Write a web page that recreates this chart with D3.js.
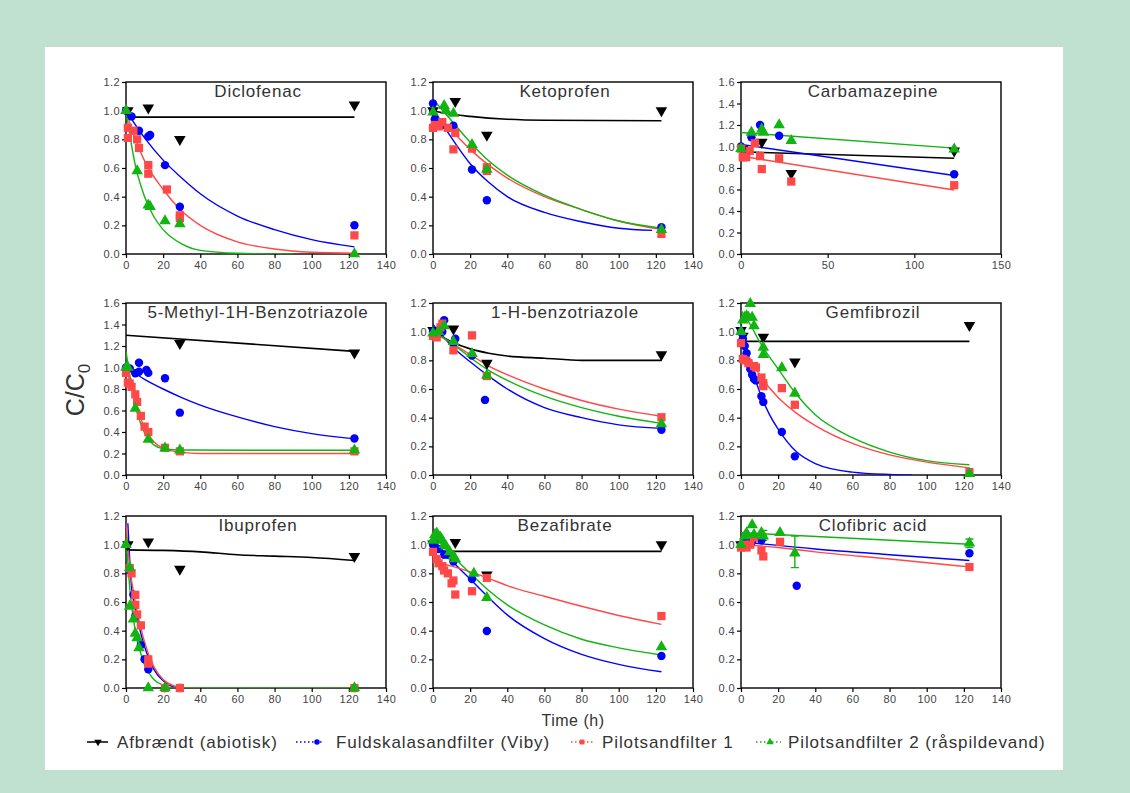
<!DOCTYPE html>
<html>
<head>
<meta charset="utf-8">
<script src="https://cdn.jsdelivr.net/npm/d3@7"></script>
<style>
  html, body { margin: 0; padding: 0; background: #c0e0d0; }
  svg { display: block; font-family: "Liberation Sans", Arial, sans-serif; }
</style>
</head>
<body>
<script>
// series order: abiotic, full-scale, pilot 1, pilot 2
var seriesNames = ["Afbrændt (abiotisk)", "Fuldskalasandfilter (Viby)", "Pilotsandfilter 1", "Pilotsandfilter 2 (råspildevand)"];
var seriesColors = ["#000000", "#0000ff", "#ff4848", "#12b412"];

var panelTitles = ["Diclofenac", "Ketoprofen", "Carbamazepine",
  "5-Methyl-1H-Benzotriazole", "1-H-benzotriazole", "Gemfibrozil",
  "Ibuprofen", "Bezafibrate", "Clofibric acid"];
var xMaxes = [140, 140, 150, 140, 140, 140, 140, 140, 140];
var yMaxes = [1.2, 1.2, 1.6, 1.6, 1.2, 1.2, 1.2, 1.2, 1.2];
var xTicks140 = [0, 20, 40, 60, 80, 100, 120, 140];
var xTicks150 = [0, 50, 100, 150];

// measured points: [series, time (h), C/C0]
var diclofenacPts = [
  [0,1,1.0],[0,12,1.02],[0,29,0.80],[0,123,1.04],
  [1,0,1.0],[1,3,0.96],[1,7,0.86],[1,12,0.82],[1,13,0.83],[1,21,0.62],[1,29,0.33],[1,123,0.2],
  [2,1,0.88],[2,1,0.81],[2,4,0.86],[2,6,0.80],[2,7,0.74],[2,12,0.62],[2,12,0.56],[2,22,0.45],[2,29,0.27],[2,29,0.25],[2,123,0.13],
  [3,0,1.0],[3,6,0.58],[3,12,0.34],[3,13,0.33],[3,21,0.23],[3,29,0.21],[3,123,0.0]];
var ketoprofenPts = [
  [0,0,1.0],[0,12,1.065],[0,29,0.83],[0,123,1.0],
  [1,0,1.05],[1,1,0.94],[1,5,0.9],[1,11,0.895],[1,21,0.59],[1,29,0.375],[1,123,0.186],
  [2,0,0.88],[2,1,0.9],[2,3,0.89],[2,5,0.92],[2,8,0.88],[2,11,0.73],[2,12,0.845],[2,21,0.735],[2,29,0.605],[2,29,0.58],[2,123,0.14],
  [3,0,0.99],[3,6,1.035],[3,7,1.0],[3,11,0.98],[3,21,0.763],[3,29,0.59],[3,123,0.17]];
var carbamazepinePts = [
  [0,1,0.976],[0,12,1.04],[0,29,0.75],[0,123,0.96],
  [1,0,1.0],[1,3,0.93],[1,6,1.085],[1,11,1.2],[1,22,1.1],[1,123,0.742],
  [2,0,0.98],[2,1,0.9],[2,3,0.9],[2,5,0.96],[2,8,1.03],[2,11,0.91],[2,12,0.79],[2,22,0.89],[2,29,0.674],[2,123,0.64],
  [3,0,0.98],[3,6,1.13],[3,12,1.16],[3,13,1.13],[3,22,1.2],[3,29,1.054],[3,123,0.976]];
var methylBtPts = [
  [0,29,1.224],[0,123,1.137],
  [1,0,1.0],[1,2,0.99],[1,5,0.946],[1,7,1.045],[1,7,0.96],[1,11,0.977],[1,12,0.95],[1,21,0.9],[1,29,0.58],[1,123,0.34],
  [2,0,0.95],[2,1,0.86],[2,2,0.85],[2,3,0.82],[2,5,0.75],[2,6,0.68],[2,8,0.55],[2,10,0.45],[2,12,0.4],[2,21,0.253],[2,29,0.22],[2,123,0.22],
  [3,0,1.0],[3,1,1.0],[3,5,0.62],[3,12,0.33],[3,21,0.25],[3,29,0.23],[3,123,0.23]];
var benzotriazolePts = [
  [0,0,1.01],[0,11,1.02],[0,29,0.78],[0,123,0.84],
  [1,0,1.0],[1,2,0.97],[1,5,1.0],[1,6,1.08],[1,11,0.916],[1,12,0.95],[1,21,0.834],[1,28,0.524],[1,123,0.315],
  [2,0,0.97],[2,2,0.96],[2,4,1.03],[2,5,1.056],[2,11,0.87],[2,21,0.974],[2,29,0.69],[2,123,0.403],
  [3,0,0.99],[3,3,1.0],[3,6,1.04],[3,11,0.93],[3,21,0.846],[3,29,0.695],[3,123,0.357]];
var gemfibrozilPts = [
  [0,0,1.01],[0,1,0.97],[0,12,0.963],[0,29,0.79],[0,123,1.045],
  [1,0,1.0],[1,1,0.95],[1,2,0.9],[1,3,0.85],[1,4,0.78],[1,5,0.74],[1,6,0.7],[1,7,0.67],[1,8,0.66],[1,11,0.55],[1,12,0.51],[1,22,0.3],[1,29,0.13],
  [2,0,0.92],[2,1,0.81],[2,2,0.8],[2,4,0.78],[2,7,0.76],[2,8,0.75],[2,11,0.68],[2,12,0.64],[2,12,0.62],[2,22,0.606],[2,29,0.49],[2,123,0.02],
  [3,0,1.0],[3,1,1.08],[3,2,1.1],[3,3,1.11],[3,4,1.1],[3,5,1.195],[3,6,1.1],[3,7,1.04],[3,12,0.89],[3,12,0.84],[3,22,0.748],[3,29,0.57],[3,123,0.01]];
var ibuprofenPts = [
  [0,1,1.0],[0,12,1.02],[0,29,0.83],[0,123,0.918],
  [1,2,0.82],[1,4,0.65],[1,5,0.5],[1,8,0.3],[1,10,0.2],[1,12,0.13],[1,21,0.0],[1,29,0.0],[1,123,0.0],
  [2,2,0.837],[2,3,0.8],[2,5,0.65],[2,5,0.58],[2,6,0.513],[2,8,0.437],[2,12,0.2],[2,12,0.17],[2,21,0.0],[2,29,0.0],[2,123,0.0],
  [3,0,1.0],[3,2,0.84],[3,2,0.57],[3,4,0.48],[3,5,0.38],[3,6,0.35],[3,7,0.28],[3,12,0.0],[3,21,0.0],[3,123,0.0]];
var bezafibratePts = [
  [0,0,1.006],[0,12,1.017],[0,29,0.79],[0,123,1.0],
  [1,0,1.0],[1,1,1.02],[1,3,0.97],[1,6,0.93],[1,8,0.93],[1,11,0.883],[1,21,0.76],[1,29,0.398],[1,123,0.224],
  [2,0,0.95],[2,2,0.9],[2,3,0.87],[2,5,0.85],[2,6,0.82],[2,8,0.8],[2,10,0.73],[2,11,0.75],[2,12,0.652],[2,21,0.675],[2,29,0.768],[2,123,0.502],
  [3,0,1.03],[3,1,1.07],[3,2,1.08],[3,3,1.06],[3,4,1.05],[3,5,1.03],[3,6,1.0],[3,7,0.99],[3,9,0.95],[3,11,0.92],[3,12,0.9],[3,22,0.8],[3,29,0.63],[3,123,0.287]];
var clofibricPts = [
  [0,0,1.0],
  [1,0,1.0],[1,3,1.03],[1,6,1.02],[1,11,1.03],[1,30,0.714],[1,123,0.94],
  [2,0,0.98],[2,2,1.0],[2,3,0.98],[2,5,1.0],[2,7,1.05],[2,11,0.96],[2,12,0.918],[2,21,1.02],[2,123,0.844],
  [3,0,1.0],[3,2,1.06],[3,3,1.08],[3,6,1.138],[3,7,1.07],[3,11,1.084],[3,12,1.06],[3,21,1.084],[3,29,0.94],[3,123,1.01]];
// green error bars in the clofibric acid panel: [time, low, high]
var clofibricErr = [[12,1.03,1.10],[29,0.84,1.06],[123,0.98,1.04]];

// fitted curves: one list of [time, C/C0] per series
var diclofenacFit = [
  [[0,0.955],[123,0.955]],
  [[0,1.0],[10,0.81],[20,0.655],[30,0.53],[40,0.42],[60,0.265],[80,0.17],[100,0.1],[123,0.05]],
  [[0,1.0],[5,0.8],[10,0.65],[20,0.45],[30,0.3],[40,0.2],[60,0.085],[80,0.035],[100,0.012],[123,0.005]],
  [[0,1.0],[5,0.62],[10,0.4],[15,0.26],[20,0.17],[30,0.07],[40,0.025],[60,0.005],[90,0.0]]];
var ketoprofenFit = [
  [[0,1.0],[10,0.975],[20,0.96],[40,0.94],[60,0.933],[123,0.93]],
  [[0,1.02],[5,0.91],[10,0.81],[20,0.63],[30,0.5],[40,0.40],[60,0.29],[80,0.225],[100,0.18],[118,0.165]],
  [[0,0.98],[10,0.86],[20,0.73],[30,0.62],[40,0.53],[60,0.40],[80,0.31],[100,0.23],[123,0.17]],
  [[0,1.08],[10,0.93],[20,0.78],[30,0.65],[40,0.55],[60,0.41],[80,0.31],[100,0.23],[123,0.18]]];
var carbamazepineFit = [
  [[0,0.95],[123,0.89]],
  [[0,1.02],[123,0.73]],
  [[0,0.91],[123,0.595]],
  [[0,1.13],[123,0.985]]];
var methylBtFit = [
  [[0,1.3],[123,1.15]],
  [[0,1.0],[10,0.89],[20,0.8],[30,0.72],[40,0.65],[60,0.54],[80,0.45],[100,0.385],[123,0.336]],
  [[0,1.0],[5,0.7],[10,0.43],[15,0.31],[20,0.25],[30,0.21],[40,0.2],[123,0.2]],
  [[0,1.15],[5,0.65],[10,0.39],[15,0.28],[20,0.245],[30,0.232],[123,0.23]]];
var benzotriazoleFit = [
  [[0,1.0],[10,0.93],[20,0.88],[30,0.85],[40,0.83],[60,0.815],[80,0.8],[123,0.8]],
  [[0,1.05],[10,0.9],[20,0.79],[30,0.69],[40,0.6],[60,0.47],[80,0.4],[100,0.35],[123,0.325]],
  [[0,1.0],[10,0.92],[20,0.84],[30,0.76],[40,0.70],[60,0.60],[80,0.52],[100,0.46],[123,0.41]],
  [[0,1.0],[10,0.92],[20,0.82],[30,0.73],[40,0.66],[60,0.55],[80,0.47],[100,0.41],[123,0.36]]];
var gemfibrozilFit = [
  [[0,0.932],[123,0.932]],
  [[0,1.05],[5,0.78],[10,0.58],[15,0.43],[20,0.32],[30,0.16],[40,0.08],[60,0.02],[80,0.004],[92,0.0]],
  [[0,0.93],[10,0.7],[20,0.54],[30,0.43],[40,0.345],[60,0.22],[80,0.14],[100,0.09],[123,0.05]],
  [[0,1.15],[5,1.05],[10,0.93],[20,0.74],[30,0.56],[40,0.42],[60,0.26],[80,0.16],[100,0.10],[123,0.072]]];
var ibuprofenFit = [
  [[0,0.964],[20,0.96],[40,0.95],[60,0.93],[80,0.92],[100,0.91],[123,0.89]],
  [[1,1.15],[3,0.7],[5,0.56],[8,0.38],[10,0.29],[15,0.13],[20,0.05],[25,0.01],[30,0.0],[123,0.0]],
  [[0,1.15],[2,0.85],[5,0.6],[8,0.42],[10,0.32],[15,0.15],[20,0.06],[25,0.02],[30,0.0],[123,0.0]],
  [[0,1.07],[2,0.7],[4,0.48],[6,0.33],[8,0.24],[10,0.16],[15,0.06],[20,0.02],[25,0.0],[123,0.0]]];
var bezafibrateFit = [
  [[0,0.953],[123,0.953]],
  [[0,1.04],[10,0.89],[20,0.76],[30,0.63],[40,0.51],[60,0.345],[80,0.235],[100,0.165],[123,0.113]],
  [[0,0.883],[10,0.85],[20,0.81],[30,0.765],[40,0.714],[60,0.64],[80,0.57],[100,0.506],[123,0.444]],
  [[0,1.07],[10,0.93],[20,0.8],[30,0.68],[40,0.58],[60,0.44],[80,0.34],[100,0.28],[123,0.23]]];
var clofibricFit = [
  [],
  [[0,1.02],[40,0.97],[80,0.93],[123,0.89]],
  [[0,1.0],[20,0.98],[40,0.95],[80,0.9],[123,0.845]],
  [[0,1.084],[123,1.003]]];

var panelPts = [diclofenacPts, ketoprofenPts, carbamazepinePts, methylBtPts, benzotriazolePts,
  gemfibrozilPts, ibuprofenPts, bezafibratePts, clofibricPts];
var panelFits = [diclofenacFit, ketoprofenFit, carbamazepineFit, methylBtFit, benzotriazoleFit,
  gemfibrozilFit, ibuprofenFit, bezafibrateFit, clofibricFit];

var W = 1130, H = 793;
var colLeft = [126, 433, 741], rowTop = [82, 303, 516];
var pw = 260, ph = 172;

var svg = d3.select('body').append('svg')
    .attr('width', W)
    .attr('height', H);

svg.append('rect')
    .attr('x', 45).attr('y', 47)
    .attr('width', 1018).attr('height', 723)
    .attr('fill', '#ffffff');

var symbolFor = function (s) {
  if (s === 1) return d3.symbol().type(d3.symbolCircle).size(56);
  if (s === 2) return d3.symbol().type(d3.symbolSquare).size(68);
  return d3.symbol().type(d3.symbolTriangle).size(58);
};
var markerTransform = function (s, x, y) {
  // abiotic control uses a downward triangle
  return 'translate(' + x + ',' + y + ')' + (s === 0 ? ' rotate(180)' : '');
};

panelTitles.forEach(function (title, i) {
  var left = colLeft[i % 3], top = rowTop[Math.floor(i / 3)];
  var x = d3.scaleLinear().domain([0, xMaxes[i]]).range([0, pw]);
  var y = d3.scaleLinear().domain([0, yMaxes[i]]).range([ph, 0]);
  var g = svg.append('g').attr('transform', 'translate(' + left + ',' + top + ')');

  g.append('clipPath').attr('id', 'clip' + i)
    .append('rect').attr('width', pw).attr('height', ph);

  var yAxis = d3.axisLeft(y)
      .tickValues(d3.range(0, yMaxes[i] + 0.01, 0.2))
      .tickFormat(d3.format('.1f'))
      .tickSize(4).tickPadding(2);
  var xAxis = d3.axisBottom(x)
      .tickValues(xMaxes[i] === 150 ? xTicks150 : xTicks140)
      .tickSize(4).tickPadding(3);

  g.append('g').call(yAxis);
  g.append('g').attr('transform', 'translate(0,' + ph + ')').call(xAxis);
  g.selectAll('.domain').remove();
  g.selectAll('.tick line').attr('stroke', '#000').attr('stroke-width', 1.2);
  g.selectAll('.tick text')
      .attr('fill', '#444')
      .style('font-size', '11px')
      .style('letter-spacing', '0.4px')
      .style('font-family', '"Liberation Sans", Arial, sans-serif');

  g.append('rect')
      .attr('width', pw).attr('height', ph)
      .attr('fill', 'none')
      .attr('stroke', '#000')
      .attr('stroke-width', 1.4);

  g.append('text')
      .attr('x', pw / 2 + 2).attr('y', 15)
      .attr('text-anchor', 'middle')
      .attr('fill', '#333')
      .style('font-size', '17px')
      .style('letter-spacing', '0.8px')
      .text(title);

  var line = d3.line()
      .x(function (d) { return x(d[0]); })
      .y(function (d) { return y(d[1]); })
      .curve(d3.curveMonotoneX);

  var plot = g.append('g').attr('clip-path', 'url(#clip' + i + ')');
  panelFits[i].forEach(function (fit, s) {
    if (!fit.length) return;
    plot.append('path')
        .attr('d', line(fit))
        .attr('fill', 'none')
        .attr('stroke', seriesColors[s])
        .attr('stroke-width', s === 0 ? 1.6 : 1.4);
  });

  if (i === 8) {
    clofibricErr.forEach(function (e) {
      var ex = x(e[0]);
      g.append('path')
          .attr('d', 'M' + ex + ',' + y(e[1]) + 'V' + y(e[2]) +
                     'M' + (ex - 4) + ',' + y(e[1]) + 'h8' +
                     'M' + (ex - 4) + ',' + y(e[2]) + 'h8')
          .attr('stroke', seriesColors[3])
          .attr('stroke-width', 1.4)
          .attr('fill', 'none');
    });
  }

  [0, 1, 2, 3].forEach(function (s) {
    g.selectAll('.pt' + s)
      .data(panelPts[i].filter(function (d) { return d[0] === s; }))
      .enter().append('path')
        .attr('d', symbolFor(s))
        .attr('transform', function (d) { return markerTransform(s, x(d[1]), y(d[2])); })
        .attr('fill', seriesColors[s]);
  });
});

// y axis label C/C0
var yLab = svg.append('text')
    .attr('transform', 'translate(84,390) rotate(-90)')
    .attr('text-anchor', 'middle')
    .attr('fill', '#333')
    .style('font-size', '25px');
yLab.append('tspan').text('C/C');
yLab.append('tspan').attr('dy', 6).style('font-size', '17px').text('0');

svg.append('text')
    .attr('x', 573).attr('y', 726)
    .attr('text-anchor', 'middle')
    .attr('fill', '#333')
    .style('font-size', '16px')
    .style('letter-spacing', '0.5px')
    .text('Time (h)');

// legend
var legendX = [[87, 108, 98, 117], [296, 322, 317, 336], [571, 594, 582, 602], [756, 781, 770, 788]];
var legend = svg.append('g').attr('transform', 'translate(0,742)');
seriesNames.forEach(function (name, s) {
  var lx = legendX[s];
  legend.append('line')
      .attr('x1', lx[0]).attr('x2', lx[1])
      .attr('stroke', seriesColors[s])
      .attr('stroke-width', 1.5)
      .attr('stroke-dasharray', s === 0 ? null : '1.5,2.5');
  legend.append('path')
      .attr('d', d3.symbol().type(s === 1 ? d3.symbolCircle : s === 2 ? d3.symbolSquare : d3.symbolTriangle).size(24))
      .attr('transform', markerTransform(s, lx[2], 0))
      .attr('fill', seriesColors[s]);
  legend.append('text')
      .attr('x', lx[3]).attr('y', 6)
      .attr('fill', '#333')
      .style('font-size', '17px')
      .style('letter-spacing', '0.9px')
      .text(name);
});
</script>
</body>
</html>
